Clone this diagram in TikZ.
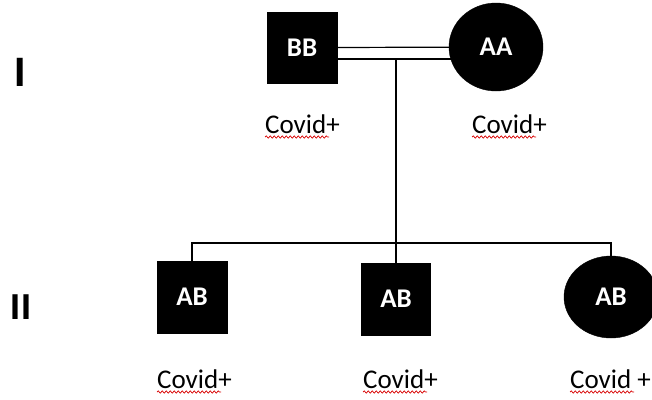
\documentclass[tikz,border=0pt]{standalone}
\usepackage{fontspec}
\setmainfont{Carlito}
\newfontfamily\romfont{Liberation Sans}
\usetikzlibrary{shapes.geometric,backgrounds,decorations.pathmorphing}
\begin{document}
\begin{tikzpicture}[x=1pt,y=-1pt,
  sq/.style={rectangle,fill=black,draw=black,text=white,font=\bfseries\fontsize{27}{30}\selectfont,inner sep=0pt},
  circ/.style={ellipse,fill=black,draw=black,text=white,font=\bfseries\fontsize{27}{30}\selectfont,inner sep=0pt},
  lbl/.style={font=\fontsize{27}{30}\selectfont,inner sep=0pt,anchor=base west},
  gen/.style={font=\romfont\bfseries,inner sep=0pt},
  link/.style={draw=black,line width=1.2pt},
  wavy/.style={draw=red!85!black,line width=0.7pt,decorate,decoration={snake,amplitude=1.1pt,segment length=4pt}}]
\useasboundingbox (0,0) rectangle (652,399);
% generation numbers
\node[gen,font=\romfont\bfseries\fontsize{41}{44}\selectfont] (g1) at (20.5,72) {I};
\node[gen,font=\romfont\bfseries\fontsize{36}{40}\selectfont] (g2) at (21,307) {II};
% generation I
\node[sq,minimum width=70pt,minimum height=71pt] (bb) at (302,47.5) {BB};
\node[circ,minimum width=94pt,minimum height=88pt] (aa) at (496,47) {AA};
% generation II
\node[sq,minimum width=70pt,minimum height=72pt] (c1) at (192,297) {AB};
\node[sq,minimum width=69pt,minimum height=72pt] (c2) at (396,299) {AB};
\node[circ,minimum width=94pt,minimum height=82pt] (c3) at (611,297) {AB};
% connectors
\coordinate (m) at (396,59);
\coordinate (sib) at (396,243);
\begin{scope}[on background layer]
  \fill[white] (0,0) rectangle (652,399);
  \draw[link] (bb.east) -- (aa.center);
  \draw[link] ([yshift=-11.5pt]bb.east) -- ([yshift=-12pt]aa.center);
\end{scope}
\draw[link] (m) -- (c2.north);
\draw[link] (c1.north) |- (sib) -| (c3.north);
% labels
\node[lbl] (l1) at (265,133) {Covid+};
\node[lbl] (l2) at (472,133) {Covid+};
\node[lbl] (l3) at (157,388) {Covid+};
\node[lbl] (l4) at (363,388) {Covid+};
\node[lbl] (l5) at (570,388) {Covid +};
\foreach \n in {l1,l2,l3,l4,l5}
  \draw[wavy] ([yshift=-4pt]\n.base west) -- ++(64,0);
\end{tikzpicture}
\end{document}
